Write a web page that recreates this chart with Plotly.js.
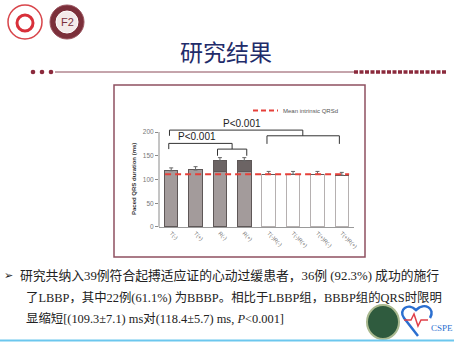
<!DOCTYPE html>
<html><head><meta charset="utf-8">
<script src="https://cdn.plot.ly/plotly-3.0.1.min.js"></script>
<style>html,body{margin:0;padding:0;background:#fff}#c{width:454px;height:343px}</style>
</head><body><div id="c"></div>
<script>
// ---- data ----
const groups = ["T(-)", "T(+)", "R(-)", "R(+)", "T(-)R(-)", "T(-)R(+)", "T(+)R(-)", "T(+)R(+)"];
const pacedQRSd = [118.4, 120, 139, 139, 111, 111, 111, 109];      // ms
const errUpper = [6, 7, 7, 7, 6, 6, 6, 6];                          // ms
const lightPartTop = [118.4, 120, 116, 116, 111, 111, 111, 109];    // two-tone split
const meanIntrinsicQRSd = 111;
const yTicks = [0, 50, 100, 150, 200];
const pLabels = ["P<0.001", "P<0.001"];

const W = 454, H = 343;
const px = x => x / W, py = y => 1 - y / H;
const idx = groups.map((g, i) => i);
const upperPart = pacedQRSd.map((v, i) => v - lightPartTop[i]);
const baseColors = idx.map(i => i < 4 ? "#a39b9b" : "#ffffff");
const baseLines = idx.map(i => i < 4 ? "#5e5757" : "#b5b0b0");

const traces = [
  {type: "bar", x: idx, y: lightPartTop, width: 0.55,
   marker: {color: baseColors, line: {color: baseLines, width: 1}}, hoverinfo: "skip"},
  {type: "bar", x: idx, y: upperPart, width: 0.55,
   marker: {color: "#6c6464", line: {color: "#5e5757", width: 1}}, hoverinfo: "skip"},
  {type: "scatter", mode: "markers", x: idx, y: pacedQRSd,
   marker: {size: 1, color: "rgba(0,0,0,0)"},
   error_y: {type: "data", symmetric: false, array: errUpper, arrayminus: idx.map(() => 0),
             color: "#666", thickness: 1, width: 2}, hoverinfo: "skip"},
  {type: "scatter", mode: "lines", x: [-0.25, 7.3], y: [meanIntrinsicQRSd, meanIntrinsicQRSd],
   line: {color: "#e5403a", width: 2, dash: "6px,4px"}, hoverinfo: "skip"}
];

function bracket(xa, xb, yTop, yEnd) {
  return {type: "path", xref: "x", yref: "y",
    path: `M ${xa},${yEnd} L ${xa},${yTop} L ${xb},${yTop} L ${xb},${yEnd}`,
    line: {color: "#333", width: 1}};
}

const plotL = 159, plotR = 354, y0px = 227, pxPerUnit = 0.475, yMax = 215;
const shapes = [
  {type: "rect", xref: "paper", yref: "paper", x0: px(114), x1: px(365), y0: py(257), y1: py(85),
   line: {color: "#8e5060", width: 1.5}},
  {type: "line", xref: "paper", yref: "y", x0: px(plotL), x1: px(plotL), y0: 0, y1: 200,
   line: {color: "#8a8a8a", width: 1}},
  bracket(-0.1, 2.5, 176, 164),
  bracket(1.9, 3.1, 164, 150),
  bracket(-0.07, 5.4, 204, 192),
  bracket(3.93, 6.9, 192, 175),
  {type: "line", xref: "paper", yref: "paper", x0: px(253), x1: px(278), y0: py(110.5), y1: py(110.5),
   line: {color: "#e5403a", width: 2, dash: "5px,3px"}},
  {type: "line", xref: "paper", yref: "paper", x0: px(55), x1: px(354), y0: py(72), y1: py(72),
   line: {color: "#8b4a58", width: 1}},
  {type: "line", xref: "paper", yref: "paper", x0: px(354), x1: px(447), y0: py(72), y1: py(72),
   line: {color: "#8b2a3c", width: 3.5, dash: "4px,1.5px"}},
  ...[33, 42, 51].map(x => ({type: "circle", xref: "paper", yref: "paper",
    x0: px(x - 2.3), x1: px(x + 2.3), y0: py(72 + 2.3), y1: py(72 - 2.3),
    fillcolor: "#8b2a3c", line: {width: 0}})),
  {type: "circle", xref: "paper", yref: "paper", x0: px(8), x1: px(42), y0: py(39), y1: py(5),
   fillcolor: "#fff", line: {color: "#d8454a", width: 1.5}},
  {type: "circle", xref: "paper", yref: "paper", x0: px(17), x1: px(33), y0: py(31), y1: py(15),
   fillcolor: "#fff", line: {color: "#d8303a", width: 3}},
  {type: "circle", xref: "paper", yref: "paper", x0: px(50), x1: px(84), y0: py(39), y1: py(5),
   fillcolor: "#7b2f3a", line: {color: "#9b5560", width: 1}},
  {type: "circle", xref: "paper", yref: "paper", x0: px(56), x1: px(78), y0: py(33), y1: py(11),
   fillcolor: "#f3eaea", line: {color: "#fff", width: 1}},
  {type: "circle", xref: "paper", yref: "paper", x0: px(367), x1: px(399), y0: py(339), y1: py(305),
   fillcolor: "#2f5b3e", line: {color: "#a9b98f", width: 2}},
  {type: "path", xref: "paper", yref: "paper",
   path: `M ${px(418)},${py(336)} L ${px(404)},${py(318)} C ${px(398)},${py(310)} ${px(408)},${py(302)} ${px(416)},${py(310)} C ${px(424)},${py(302)} ${px(436)},${py(308)} ${px(430)},${py(318)}`,
   line: {color: "#2b6fd0", width: 2.5}},
  {type: "path", xref: "paper", yref: "paper",
   path: `M ${px(404)},${py(320)} L ${px(411)},${py(320)} L ${px(414)},${py(314)} L ${px(418)},${py(326)} L ${px(421)},${py(320)} L ${px(428)},${py(320)}`,
   line: {color: "#e0404a", width: 1.5}},
  {type: "line", xref: "paper", yref: "paper", x0: 0, x1: 1, y0: py(340.5), y1: py(340.5),
   line: {color: "#6cc7ee", width: 2}}
];

const bodyFont = {family: "Liberation Serif, Noto Sans CJK SC, serif", size: 12.4, color: "#222"};
const annotations = [
  {text: "研究结果", xref: "paper", yref: "paper", x: px(226), y: py(51), showarrow: false,
   font: {family: "Noto Sans CJK SC", size: 23, color: "#1f2c6a"}, xanchor: "center", yanchor: "middle"},
  {text: "F2", xref: "paper", yref: "paper", x: px(67), y: py(22), showarrow: false,
   font: {family: "Liberation Sans", size: 11, color: "#7b2f3a"}, xanchor: "center", yanchor: "middle"},
  {text: "CSPE", xref: "paper", yref: "paper", x: px(429), y: py(328), showarrow: false,
   font: {family: "Liberation Serif", size: 9, color: "#2b6fd0"}, xanchor: "left", yanchor: "middle"},
  {text: pLabels[0], xref: "paper", yref: "paper", x: px(242), y: py(123.5), showarrow: false,
   font: {family: "Liberation Sans", size: 10, color: "#222"}, xanchor: "center", yanchor: "middle"},
  {text: pLabels[1], xref: "paper", yref: "paper", x: px(197), y: py(136.5), showarrow: false,
   font: {family: "Liberation Sans", size: 10, color: "#222"}, xanchor: "center", yanchor: "middle"},
  {text: "Mean intrinsic QRSd", xref: "paper", yref: "paper", x: px(281), y: py(110.5), showarrow: false,
   font: {family: "Liberation Sans", size: 6, color: "#555"}, xanchor: "left", yanchor: "middle"},
  {text: "<b>Paced QRS duration (ms)</b>", xref: "paper", yref: "paper", x: px(134), y: py(179), showarrow: false,
   textangle: -90, font: {family: "Liberation Sans", size: 6, color: "#333"}, xanchor: "center", yanchor: "middle"},
  {text: "➢", xref: "paper", yref: "paper", x: px(2), y: py(275), showarrow: false,
   font: {family: "DejaVu Sans", size: 11, color: "#222"}, xanchor: "left", yanchor: "middle"},
  {text: "研究共纳入39例符合起搏适应证的心动过缓患者，36例 (92.3%) 成功的施行", xref: "paper", yref: "paper",
   x: px(18), y: py(275), showarrow: false, font: Object.assign({}, bodyFont, {size: 12.8}), xanchor: "left", yanchor: "middle"},
  {text: "了LBBP，其中22例(61.1%) 为BBBP。相比于LBBP组，BBBP组的QRS时限明", xref: "paper", yref: "paper",
   x: px(24), y: py(297), showarrow: false, font: bodyFont, xanchor: "left", yanchor: "middle"},
  {text: "显缩短[(109.3±7.1) ms对(118.4±5.7) ms, <i>P</i><0.001]", xref: "paper", yref: "paper",
   x: px(24), y: py(318), showarrow: false, font: bodyFont, xanchor: "left", yanchor: "middle"}
];

const layout = {
  width: W, height: H, margin: {l: 0, r: 0, t: 0, b: 0},
  paper_bgcolor: "#fff", plot_bgcolor: "rgba(0,0,0,0)",
  showlegend: false, barmode: "stack", bargap: 0.45,
  xaxis: {domain: [px(plotL), px(plotR)], range: [-0.5, 7.5], tickvals: idx, ticktext: groups,
          tickangle: 45, tickfont: {family: "Liberation Sans", size: 5.5, color: "#666"},
          showline: true, linecolor: "#9a9a9a", linewidth: 1, ticks: "", showgrid: false, zeroline: false,
          fixedrange: true},
  yaxis: {domain: [py(y0px), py(y0px - yMax * pxPerUnit)], range: [0, yMax], tickvals: yTicks,
          tickfont: {family: "Liberation Sans", size: 6.5, color: "#777"}, ticks: "outside", ticklen: 3,
          tickcolor: "#8a8a8a", showline: false, showgrid: false, zeroline: false, fixedrange: true},
  shapes: shapes, annotations: annotations
};

Plotly.newPlot("c", traces, layout, {staticPlot: true, displayModeBar: false});
</script></body></html>
